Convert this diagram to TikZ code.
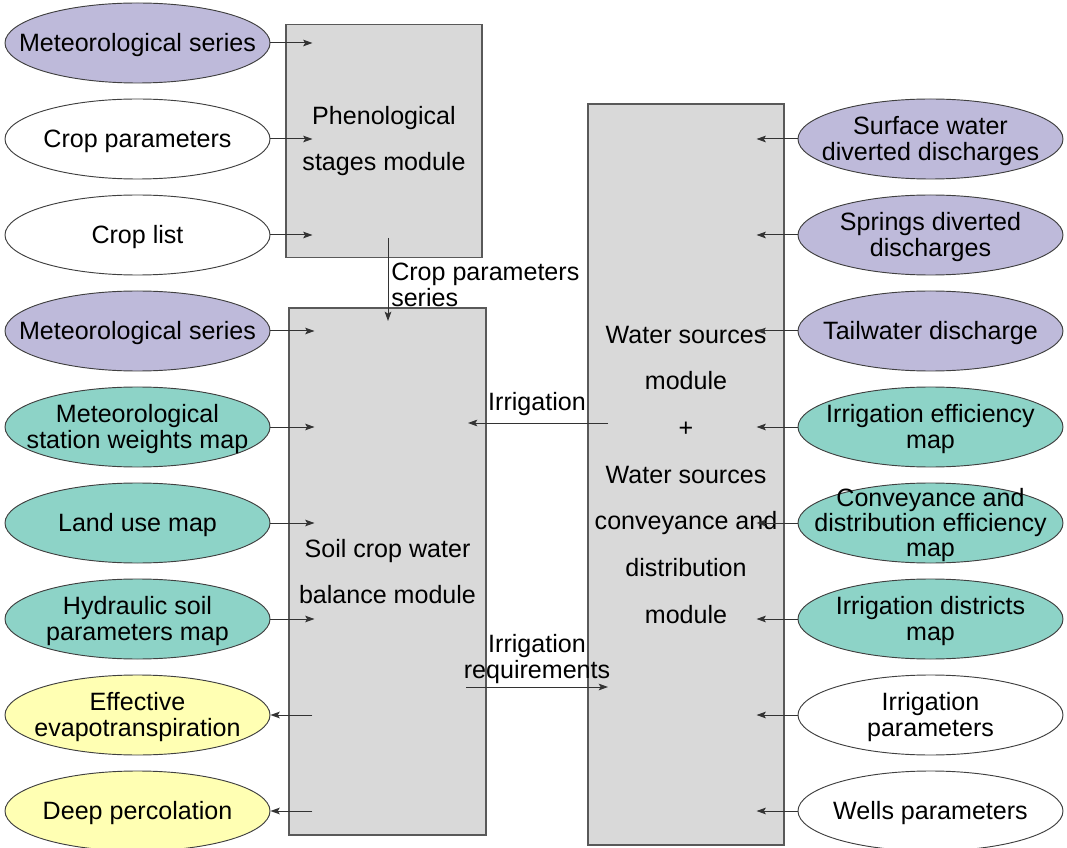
\documentclass[tikz,border=0pt]{standalone}
\usepackage{fontspec}
\setmainfont{Liberation Sans}
\usetikzlibrary{shapes.geometric,arrows.meta}
\definecolor{purp}{HTML}{BEBADA}
\definecolor{tealfill}{HTML}{8DD3C7}
\definecolor{yell}{HTML}{FFFFB3}
\definecolor{boxgray}{HTML}{D9D9D9}
\tikzset{
  inp/.style={ellipse,draw=black!75,line width=0.7pt,minimum width=198.75pt,minimum height=60pt,inner sep=0pt},
  txt/.style={align=center,inner sep=0pt,yshift=-1.5pt,font=\fontsize{18.8}{19}\selectfont},
  module/.style={rectangle,draw=black!65,line width=1pt,fill=boxgray,align=center,inner sep=0pt,font=\fontsize{18.8}{35}\selectfont},
  arr/.style={draw=black!80,line width=0.75pt,-{Stealth[length=7pt,width=5pt,inset=1.5pt]}},
}
\begin{document}
\begin{tikzpicture}[x=0.75pt,y=-0.75pt]
  \useasboundingbox (0,0) rectangle (1067,848);
  % modules
  \node[module,minimum width=147pt,minimum height=174.75pt] (phen) at (384,141) {Phenological\\stages module};
  \node[module,minimum width=147.75pt,minimum height=395.25pt] (soil) at (387.5,571.5) {Soil crop water\\balance module};
  \node[module,minimum width=147pt,minimum height=555.75pt] (water) at (686,474.5)
    {Water sources\\module\\+\\Water sources\\conveyance and\\distribution\\module};
  % inputs and outputs, left side
  \foreach \n/\y/\c/\t in {l1/43/purp/Meteorological series,
                           l2/139/white/Crop parameters,
                           l3/235/white/Crop list,
                           l4/331/purp/Meteorological series,
                           l5/427/tealfill/{Meteorological\\station weights map},
                           l6/523/tealfill/Land use map,
                           l7/619/tealfill/{Hydraulic soil\\parameters map},
                           l8/715/yell/{Effective\\evapotranspiration},
                           l9/811/yell/Deep percolation}{
    \node[inp,fill=\c] (\n) at (137.5,\y) {};
    \node[txt] (\n-t) at (\n) {\t};
  }
  % right side
  \foreach \n/\y/\c/\t in {r1/139/purp/{Surface water\\diverted discharges},
                           r2/235/purp/{Springs diverted\\discharges},
                           r3/331/purp/Tailwater discharge,
                           r4/427/tealfill/{Irrigation efficiency\\map},
                           r5/523/tealfill/{Conveyance and\\distribution efficiency\\map},
                           r6/619/tealfill/{Irrigation districts\\map},
                           r7/715/white/{Irrigation\\parameters},
                           r8/811/white/Wells parameters}{
    \node[inp,fill=\c] (\n) at (930.5,\y) {};
    \node[txt] (\n-t) at (\n) {\t};
  }
  % connectors
  \foreach \n in {l1,l2,l3}
    \draw[arr] (\n.east) -- ++(42,0);
  \foreach \n in {l4,l5,l6,l7}
    \draw[arr] (\n.east) -- ++(44,0);
  \foreach \n in {l8,l9}
    \draw[arr] (\n.east) ++(42,0) -- (\n.east);
  \foreach \n in {r1,r2,r3,r4,r5,r6,r7,r8}
    \draw[arr] (\n.west) -- ++(-41,0);
  \coordinate (phen-out) at (388,238);
  \coordinate (soil-in) at (388,321);
  \draw[arr] (phen-out) -- (soil-in);
  \node[txt,align=left,anchor=west] (cps) at (391,283) {Crop parameters\\series};
  \coordinate (water-out) at (608,423);
  \coordinate (soil-irr) at (468,423);
  \draw[arr] (water-out) -- (soil-irr);
  \node[txt] (irr) at (537,402) {Irrigation};
  \coordinate (soil-out) at (466,687);
  \coordinate (water-in) at (608,687);
  \draw[arr] (soil-out) -- (water-in);
  \node[txt] (irrreq) at (537,657) {Irrigation\\requirements};
\end{tikzpicture}
\end{document}
